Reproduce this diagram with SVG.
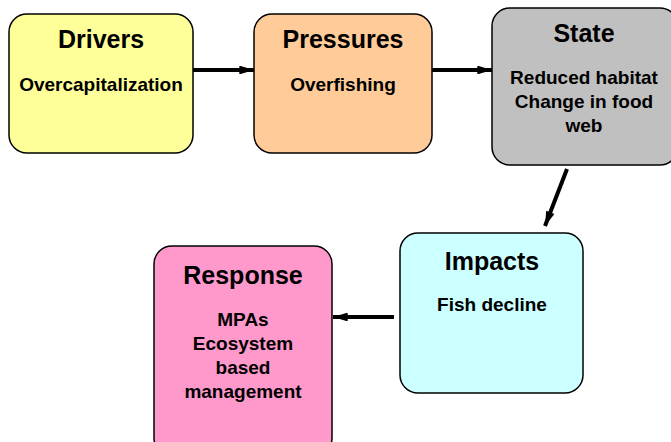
<svg xmlns="http://www.w3.org/2000/svg" width="671" height="442" viewBox="0 0 671 442">
<style>
.box{stroke:#000;stroke-width:1.5}
.t{font-family:"Liberation Sans",Arial,sans-serif;font-weight:bold;text-anchor:middle;fill:#000}
.h{font-size:25px}
.b{font-size:19px}
.c{stroke:#000;stroke-width:4;fill:none;marker-end:url(#ah)}
</style>
<defs>
<marker id="ah" viewBox="0 0 10 6" refX="10" refY="3" markerWidth="4.5" markerHeight="2.2" orient="auto" markerUnits="strokeWidth">
<path d="M0,0 L10,3 L0,6 z" fill="#000"/>
</marker>
</defs>
<rect width="671" height="442" fill="#fff"/>
<g id="connectors">
<line class="c" x1="193" y1="70" x2="254" y2="70"/>
<line class="c" x1="432" y1="70" x2="492" y2="70"/>
<line class="c" x1="567" y1="169" x2="545" y2="226"/>
<line class="c" x1="394" y1="317" x2="333" y2="317"/>
</g>
<g id="drivers">
<rect class="box" x="9" y="14" width="184" height="139" rx="18" fill="#FFFF99"/>
<text class="t h" x="101" y="48">Drivers</text>
<text class="t b" x="101" y="91">Overcapitalization</text>
</g>
<g id="pressures">
<rect class="box" x="254" y="14" width="178" height="139" rx="18" fill="#FFCC99"/>
<text class="t h" x="343" y="48">Pressures</text>
<text class="t b" x="343" y="91">Overfishing</text>
</g>
<g id="state">
<rect class="box" x="492" y="8" width="186" height="157" rx="18" fill="#C0C0C0"/>
<text class="t h" x="584" y="42">State</text>
<text class="t b" x="584" y="84">Reduced habitat</text>
<text class="t b" x="584" y="108">Change in food</text>
<text class="t b" x="584" y="132">web</text>
</g>
<g id="impacts">
<rect class="box" x="400" y="233" width="183" height="160" rx="18" fill="#CCFFFF"/>
<text class="t h" x="492" y="270">Impacts</text>
<text class="t b" x="492" y="311">Fish decline</text>
</g>
<g id="response">
<rect class="box" x="154" y="246" width="178" height="210" rx="18" fill="#FF99CC"/>
<text class="t h" x="243" y="284">Response</text>
<text class="t b" x="243" y="326">MPAs</text>
<text class="t b" x="243" y="350">Ecosystem</text>
<text class="t b" x="243" y="374">based</text>
<text class="t b" x="243" y="398">management</text>
</g>
</svg>
